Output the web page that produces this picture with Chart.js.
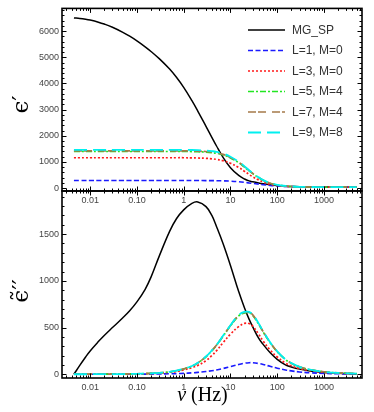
<!DOCTYPE html>
<html><head><meta charset="utf-8">
<script src="https://cdn.jsdelivr.net/npm/chart.js@4.4.1/dist/chart.umd.min.js"></script>
<style>
html,body{margin:0;padding:0;background:#fff;}
#wrap{position:relative;width:374px;height:412px;overflow:hidden;}
canvas{position:absolute;left:0;top:0;}
</style></head><body>
<div id="wrap"><canvas id="cB" width="374" height="412"></canvas><canvas id="cT" width="374" height="412"></canvas></div>
<script>
// ---------- data ----------
const freq = [0.0045,0.006,0.008,0.01,0.015,0.02,0.03,0.05,0.07,0.1,0.15,0.2,0.3,0.5,0.7,1,1.5,2,3,4,5,7,10,15,20,25,30,40,50,70,100,150,200,300,500,1000,2000,5000];
const seriesNames = ['MG_SP','L=1, M=0','L=3, M=0','L=5, M=4','L=7, M=4','L=9, M=8'];
const xTickVals = [0.01,0.1,1,10,100,1000];
const xTickLabels = ['0.01','0.10','1','10','100','1000'];
const yTopTicks = [0,1000,2000,3000,4000,5000,6000];
const yBotTicks = [0,500,1000,1500];

// epsilon' (top panel)
const realMG = [6505,6487,6456,6423,6343,6271,6148,5955,5806,5628,5401,5223,4948,4549,4235,3849,3340,2946,2362,1941,1618,1167,779,484,347,274,238,192,163,127,98,73,62,52,45,39,36,34];
const realL1 = [290,290,290,290,290,290,290,290,290,290,290,290,290,290,290,290,289,288,286,284,282,276,265,245,222,197,180,152,130,100,78,62,54,46,41,37,35,34];
const realL3 = [1160,1160,1160,1160,1160,1160,1160,1160,1160,1160,1160,1160,1160,1160,1160,1160,1155,1150,1137,1120,1097,1045,950,790,640,520,430,310,235,150,98,67,54,44,39,36,35,34];
const realL5 = [1400,1400,1400,1400,1400,1400,1400,1400,1400,1400,1400,1400,1400,1400,1400,1400,1395,1389,1374,1355,1331,1265,1152,970,798,655,550,397,297,185,117,79,61,47,40,37,35,34];
const realL7 = [1425,1425,1425,1425,1425,1425,1425,1425,1425,1425,1425,1425,1425,1425,1425,1425,1420,1413,1398,1378,1354,1287,1172,988,812,667,560,403,301,187,118,79,61,47,40,37,35,34];
const realL9 = [1460,1460,1460,1460,1460,1460,1460,1460,1460,1460,1460,1460,1460,1460,1460,1459,1455,1448,1432,1412,1387,1318,1200,1010,830,680,570,410,305,190,120,80,62,48,41,37,35,34];

// epsilon'' (bottom panel)
const imagMG = [0,95,185,250,350,415,500,605,680,775,910,1040,1265,1530,1665,1760,1830,1845,1795,1700,1585,1395,1165,885,710,590,507,386,320,232,160,100,78,55,35,19,10,4];
const imagL1 = [0,0,0.1,0.1,0.15,0.2,0.3,0.5,0.7,1,1.5,2,3,5,7,10,15,20,29,38,46,62,82,105,118,124,123,115,105,85,65,46,36,25,16,9,5,2];
const imagL3 = [0.15,0.2,0.3,0.4,0.6,0.8,1.2,2,2.8,4,6,8,12,21,30,46,70,95,145,200,250,340,430,510,545,543,515,430,355,262,185,120,90,61,40,22,12,6];
const imagL5 = [0.2,0.3,0.4,0.5,0.7,1,1.5,2.5,3.4,4.9,7.4,9.8,14.8,25.6,37.4,57,87,120,187,251,307,409,517,625,657,658,630,537,453,340,241,158,118,79,49,27,15,7];
const imagL7 = [0.2,0.3,0.4,0.5,0.7,1,1.5,2.5,3.5,5,7.4,9.9,14.9,25.8,37.7,57.6,87.4,121,189,253,310,412,521,631,662,663,636,541,457,343,243,159,119,79,50,27,15,7];
const imagL9 = [0.2,0.3,0.4,0.5,0.7,1,1.5,2.5,3.5,5,7.5,10,15,26,38,58,88,122,190,255,312,415,525,635,667,668,640,545,460,345,245,160,120,80,50,27,15,7];

// ---------- styles ----------
const colors = ['#000000','#1a1aff','#ff1a1a','#22e622','#a57a4a','#00f0f0'];
const dashes = [[],[5,2.5],[2,2],[6,2,2,2],[8,2,8,6],[13,6]];
const widths = [1.5,1.6,1.7,1.6,1.7,1.8];
const orders = [5,4,3,2,1,0];

function makeDatasets(arrs){
  return arrs.map((arr,k)=>({
    label: seriesNames[k],
    data: freq.map((f,i)=>({x:f,y:arr[i]})),
    borderColor: colors[k],
    backgroundColor: colors[k],
    borderDash: dashes[k],
    borderWidth: widths[k],
    pointRadius: 0,
    fill: false,
    tension: 0.4,
    order: orders[k],
    borderCapStyle: 'butt'
  }));
}

const tickFont = {family:'"Liberation Sans", Arial, sans-serif', size:9};
const tickColor = '#444';

function xScale(){
  return {
    type:'logarithmic', min:0.0025, max:6500,
    afterBuildTicks: s => { s.ticks = xTickVals.map(v=>({value:v})); },
    afterFit: s => { s.height = 20; },
    ticks:{ callback:(v,i)=>xTickLabels[i], font:tickFont, color:tickColor, padding:4, maxRotation:0, autoSkip:false },
    grid:{display:false, drawTicks:false, tickLength:0}, border:{display:false}
  };
}
function yScale(min,max,ticks){
  return {
    type:'linear', min:min, max:max,
    afterBuildTicks: s => { s.ticks = ticks.map(v=>({value:v})); },
    afterFit: s => { s.width = 62; },
    ticks:{ callback:(v)=>String(v), font:tickFont, color:tickColor, padding:3, autoSkip:false },
    grid:{display:false, drawTicks:false, tickLength:0}, border:{display:false}
  };
}

function framePlugin(majorY, minorStepY, yMaxMinor, extra){
  return {
    id:'frameTicks',
    afterDraw(chart){
      const {ctx, chartArea:a, scales:{x,y}} = chart;
      ctx.save();
      ctx.strokeStyle = '#000';
      ctx.lineWidth = 1;
      ctx.beginPath();
      for(let d=-3; d<=4; d++){
        for(let k=1;k<=9;k++){
          const v = k*Math.pow(10,d);
          const px = x.getPixelForValue(v);
          if(px < a.left+0.5 || px > a.right-0.5) continue;
          const len = (k===1) ? 4.5 : 2.5;
          const xx = Math.round(px)+0.5;
          ctx.moveTo(xx,a.bottom); ctx.lineTo(xx,a.bottom-len);
          ctx.moveTo(xx,a.top); ctx.lineTo(xx,a.top+len);
        }
      }
      for(let v=0; v<=yMaxMinor; v+=minorStepY){
        const py = y.getPixelForValue(v);
        if(py < a.top+0.5 || py > a.bottom-0.5) continue;
        const len = (v % majorY === 0) ? 4.5 : 2.5;
        const yy = Math.round(py)+0.5;
        ctx.moveTo(a.left,yy); ctx.lineTo(a.left+len,yy);
        ctx.moveTo(a.right,yy); ctx.lineTo(a.right-len,yy);
      }
      ctx.stroke();
      ctx.lineWidth = 1.6;
      ctx.strokeRect(a.left, a.top, a.right-a.left, a.bottom-a.top);
      ctx.restore();
      if(extra) extra(chart);
    }
  };
}

function drawLegend(chart){
  const ctx = chart.ctx;
  const ds = chart.data.datasets;
  const rowY = [30,50.5,71,91.5,112,132.5];
  ctx.save();
  ds.forEach((d,i)=>{
    const y = rowY[i];
    ctx.beginPath();
    ctx.strokeStyle = d.borderColor;
    ctx.lineWidth = d.borderWidth;
    ctx.setLineDash(d.borderDash);
    ctx.lineCap = 'butt';
    ctx.moveTo(248,y); ctx.lineTo(285,y);
    ctx.stroke();
    ctx.setLineDash([]);
    ctx.fillStyle = '#333';
    ctx.font = '12px "Liberation Sans", Arial, sans-serif';
    ctx.textAlign = 'left';
    ctx.textBaseline = 'middle';
    ctx.fillText(d.label, 292, y+0.5);
  });
  ctx.restore();
}

function drawRotTitle(ctx, text, cx, cy, size){
  ctx.save();
  ctx.translate(cx,cy);
  ctx.rotate(-Math.PI/2);
  ctx.fillStyle = '#000';
  ctx.font = size+'px "DejaVu Serif", serif';
  ctx.textAlign = 'center';
  ctx.textBaseline = 'middle';
  ctx.fillText(text,0,0);
  ctx.restore();
}

const common = {
  responsive:false, animation:false, events:[],
  plugins:{ legend:{display:false}, tooltip:{enabled:false} }
};

new Chart(document.getElementById('cB'), {
  type:'line',
  data:{ datasets: makeDatasets([imagMG,imagL1,imagL3,imagL5,imagL7,imagL9]) },
  options: Object.assign({}, common, {
    layout:{ padding:{ top:191, right:12, bottom:14, left:0 } },
    scales:{ x:xScale(), y:yScale(-40,1962,yBotTicks) }
  }),
  plugins:[ framePlugin(500,100,1900,(chart)=>{
    const ctx = chart.ctx;
    drawRotTitle(ctx,'\u03F5\u0303\u2032\u2032',22,291,23);
    ctx.save();
    ctx.fillStyle='#000';
    ctx.textBaseline='alphabetic';
    ctx.textAlign='left';
    ctx.font='italic 20px "Liberation Serif", serif';
    const w1 = ctx.measureText('\u03BD').width;
    ctx.font='20px "Liberation Serif", serif';
    const w2 = ctx.measureText(' (Hz)').width;
    const x0 = 202.5 - (w1+w2)/2;
    ctx.font='italic 20px "Liberation Serif", serif';
    ctx.fillText('\u03BD', x0, 401);
    ctx.font='20px "Liberation Serif", serif';
    ctx.fillText(' (Hz)', x0+w1, 401);
    ctx.restore();
  }) ]
});

new Chart(document.getElementById('cT'), {
  type:'line',
  data:{ datasets: makeDatasets([realMG,realL1,realL3,realL5,realL7,realL9]) },
  options: Object.assign({}, common, {
    layout:{ padding:{ top:6, right:12, bottom:201, left:0 } },
    scales:{ x:xScale(), y:yScale(-112,6870,yTopTicks) }
  }),
  plugins:[ framePlugin(1000,200,6800,(chart)=>{
    drawLegend(chart);
    drawRotTitle(chart.ctx,'\u03F5\u2032',22,104.5,23);
  }) ]
});
</script>
</body></html>
